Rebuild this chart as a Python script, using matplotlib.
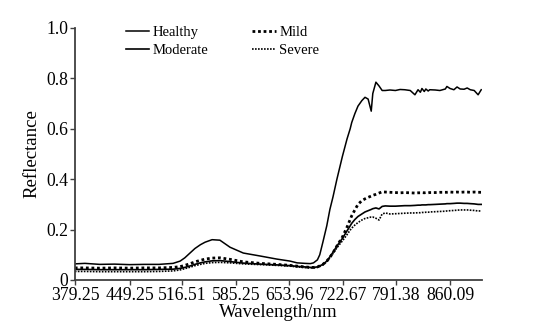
import matplotlib
matplotlib.use("Agg")
import matplotlib.pyplot as plt

# Band centres (nm) at which the mean canopy spectra were sampled
wavelength = [379, 392, 411, 430, 449, 468, 487, 505, 514, 520, 527, 533, 540, 546,
              555, 565, 578, 595, 617, 638, 655, 664, 674, 681, 685, 690, 693, 697,
              702, 706, 710, 715, 722, 728, 732, 734, 738, 742, 747, 751, 755, 759,
              761, 765, 769, 773, 777, 783, 790, 796, 802, 809, 815, 819, 822, 824,
              827, 829, 832, 834, 841, 847, 854, 856, 860, 865, 869, 873, 878, 882,
              886, 891, 896, 900]

healthy = [0.064, 0.066, 0.062, 0.063, 0.061, 0.062, 0.062, 0.066, 0.075, 0.088, 0.108,
           0.125, 0.140, 0.150, 0.160, 0.158, 0.130, 0.107, 0.095, 0.083, 0.075, 0.068,
           0.066, 0.065, 0.068, 0.080, 0.100, 0.150, 0.215, 0.280, 0.330, 0.400, 0.490,
           0.560, 0.600, 0.625, 0.660, 0.690, 0.712, 0.725, 0.718, 0.670, 0.740, 0.785,
           0.770, 0.752, 0.752, 0.754, 0.752, 0.756, 0.755, 0.752, 0.735, 0.755, 0.745,
           0.760, 0.748, 0.758, 0.750, 0.755, 0.754, 0.752, 0.758, 0.768, 0.760, 0.755,
           0.766, 0.758, 0.757, 0.762, 0.755, 0.752, 0.735, 0.755]

mild = [0.048, 0.048, 0.047, 0.048, 0.047, 0.048, 0.048, 0.050, 0.053, 0.058, 0.065,
        0.072, 0.078, 0.083, 0.087, 0.088, 0.082, 0.072, 0.066, 0.062, 0.058, 0.055,
        0.052, 0.050, 0.050, 0.052, 0.056, 0.062, 0.075, 0.090, 0.108, 0.135, 0.170,
        0.210, 0.240, 0.255, 0.278, 0.300, 0.315, 0.322, 0.328, 0.333, 0.336, 0.340,
        0.345, 0.350, 0.349, 0.348, 0.347, 0.346, 0.347, 0.346, 0.345, 0.346, 0.346,
        0.347, 0.346, 0.347, 0.346, 0.347, 0.347, 0.348, 0.348, 0.348, 0.349, 0.348,
        0.349, 0.348, 0.349, 0.349, 0.348, 0.349, 0.348, 0.348]

moderate = [0.042, 0.042, 0.041, 0.041, 0.041, 0.041, 0.042, 0.043, 0.046, 0.050, 0.056,
            0.062, 0.068, 0.072, 0.076, 0.077, 0.073, 0.067, 0.063, 0.060, 0.057, 0.054,
            0.052, 0.050, 0.050, 0.052, 0.056, 0.062, 0.075, 0.092, 0.110, 0.135, 0.165,
            0.195, 0.215, 0.225, 0.240, 0.252, 0.262, 0.270, 0.275, 0.280, 0.283, 0.286,
            0.282, 0.292, 0.294, 0.293, 0.293, 0.294, 0.295, 0.295, 0.296, 0.297, 0.297,
            0.298, 0.298, 0.298, 0.299, 0.299, 0.300, 0.301, 0.302, 0.303, 0.303, 0.304,
            0.305, 0.305, 0.304, 0.304, 0.303, 0.302, 0.300, 0.300]

severe = [0.034, 0.034, 0.033, 0.033, 0.033, 0.033, 0.034, 0.036, 0.040, 0.045, 0.051,
          0.057, 0.062, 0.066, 0.069, 0.070, 0.068, 0.064, 0.061, 0.058, 0.055, 0.052,
          0.049, 0.048, 0.048, 0.050, 0.054, 0.060, 0.072, 0.088, 0.105, 0.128, 0.155,
          0.180, 0.198, 0.206, 0.218, 0.228, 0.238, 0.244, 0.247, 0.250, 0.250, 0.245,
          0.238, 0.262, 0.266, 0.262, 0.263, 0.264, 0.265, 0.266, 0.266, 0.267, 0.267,
          0.268, 0.268, 0.269, 0.269, 0.270, 0.271, 0.272, 0.273, 0.274, 0.275, 0.276,
          0.277, 0.278, 0.278, 0.278, 0.277, 0.276, 0.274, 0.274]

x_ticks = [379.25, 449.25, 516.51, 585.25, 653.96, 722.67, 791.38, 860.09]
y_ticks = [0, 0.2, 0.4, 0.6, 0.8, 1.0]
y_tick_labels = ["0", "0.2", "0.4", "0.6", "0.8", "1.0"]

plt.rcParams["font.family"] = ["Liberation Serif", "DejaVu Serif"]

fig = plt.figure(figsize=(5.53, 3.30), dpi=100)
ax = fig.add_axes([75 / 553, 1 - 280 / 330, (482 - 75) / 553, (280 - 28) / 330])

ax.plot(wavelength, healthy, color="black", lw=1.1, ls="-", label="Healthy")
ax.plot(wavelength, moderate, color="black", lw=1.2, ls="-", label="Moderate")
ax.plot(wavelength, mild, color="black", lw=2.0, ls=(0, (1, 1)), label="Mild")
ax.plot(wavelength, severe, color="black", lw=1.2, ls=(0, (1, 0.8)), label="Severe")

ax.set_xlim(379.25, 901)
ax.set_ylim(0, 1.0)
ax.set_xticks(x_ticks)
ax.set_xticklabels([f"{v:.2f}" for v in x_ticks])
ax.set_yticks(y_ticks)
ax.set_yticklabels(y_tick_labels)

for side in ("top", "right"):
    ax.spines[side].set_visible(False)
for side in ("left", "bottom"):
    ax.spines[side].set_color("#404040")
    ax.spines[side].set_linewidth(1.3)

ax.tick_params(axis="both", direction="out", length=3.5, width=1.0, color="#404040",
               labelsize=12.7, pad=1.5)
ax.set_xlabel("Wavelength/nm", fontsize=13.5, labelpad=0)
ax.set_ylabel("Reflectance", fontsize=13.5, labelpad=4)

leg = fig.legend(loc="upper left", bbox_to_anchor=(126 / 553, 1 - 26 / 330), ncol=2,
                 frameon=False, fontsize=10.5, handlelength=1.6, handletextpad=0.25,
                 columnspacing=3.0, labelspacing=0.3, borderpad=0, borderaxespad=0)

fig.savefig("out.png", dpi=100, facecolor="white")
